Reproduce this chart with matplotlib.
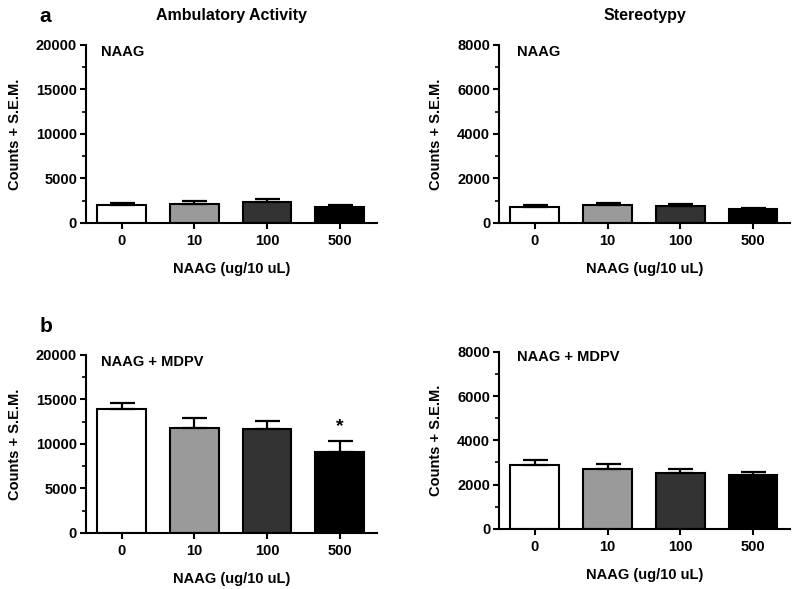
import matplotlib.pyplot as plt
from matplotlib.ticker import MultipleLocator

plt.rcParams["font.family"] = ["Liberation Sans", "DejaVu Sans"]
plt.rcParams["font.weight"] = "bold"

# doses on the x axis
doses = ["0", "10", "100", "500"]
bar_colors = ["white", "#9a9a9a", "#333333", "black"]

# ambulatory activity (counts), mean and SEM
amb_naag = [2060, 2140, 2390, 1800]
amb_naag_sem = [230, 300, 270, 180]
amb_mdpv = [13900, 11800, 11700, 9140]
amb_mdpv_sem = [700, 1150, 850, 1230]

# stereotypy (counts), mean and SEM
ster_naag = [720, 820, 765, 615]
ster_naag_sem = [75, 80, 75, 45]
ster_mdpv = [2900, 2720, 2540, 2420]
ster_mdpv_sem = [200, 200, 170, 130]

fig = plt.figure(figsize=(8, 5.89), dpi=100)

panels = [
    # rect, means, sems, ymax, major step, label, label x, label y
    ([0.1075, 0.6214, 0.3635, 0.3022], amb_naag, amb_naag_sem, 20000, 5000, "NAAG", 0.052, 0.96),
    ([0.624, 0.6214, 0.3635, 0.3022], ster_naag, ster_naag_sem, 8000, 2000, "NAAG", 0.06, 0.96),
    ([0.1075, 0.0951, 0.3635, 0.3022], amb_mdpv, amb_mdpv_sem, 20000, 5000, "NAAG + MDPV", 0.052, 0.96),
    ([0.624, 0.1019, 0.3635, 0.3010], ster_mdpv, ster_mdpv_sem, 8000, 2000, "NAAG + MDPV", 0.06, 0.97),
]

axes = []
for rect, means, sems, ymax, step, label, lx, ly in panels:
    ax = fig.add_axes(rect)
    x = range(len(doses))
    ax.bar(x, means, width=0.67, color=bar_colors, edgecolor="black", linewidth=1.5, zorder=2)
    ax.errorbar(x, means, yerr=[[0] * len(sems), sems], fmt="none", ecolor="black",
                elinewidth=1.6, capsize=9, capthick=1.6, zorder=3)
    ax.set_xlim(-0.49, 3.51)
    ax.set_ylim(0, ymax)
    ax.yaxis.set_major_locator(MultipleLocator(step))
    ax.yaxis.set_minor_locator(MultipleLocator(step / 2))
    ax.set_xticks(list(x))
    ax.set_xticklabels(doses)
    for s in ["top", "right"]:
        ax.spines[s].set_visible(False)
    for s in ["left", "bottom"]:
        ax.spines[s].set_linewidth(1.5)
    ax.tick_params(axis="both", which="major", direction="out", length=4.5, width=1.5,
                   labelsize=10.5)
    ax.tick_params(axis="y", which="minor", direction="out", length=3, width=1.2)
    ax.tick_params(axis="x", pad=3.5)
    ax.tick_params(axis="y", pad=2)
    ax.set_ylabel("Counts + S.E.M.", fontsize=10.5, fontweight="bold", labelpad=10)
    ax.set_xlabel("NAAG (ug/10 uL)", fontsize=10.5, fontweight="bold", labelpad=10)
    ax.text(lx, ly, label, transform=ax.transAxes, fontsize=10.5,
            fontweight="bold", va="center", ha="left")
    axes.append(ax)

# significance marker
axes[2].text(3, 11000, "*", ha="center", va="bottom", fontsize=14, fontweight="bold")

fig.text(0.5 * (0.1075 + 0.471), 0.974, "Ambulatory Activity", ha="center", va="center",
         fontsize=11.5, fontweight="bold")
fig.text(0.5 * (0.624 + 0.9875), 0.974, "Stereotypy", ha="center", va="center",
         fontsize=11.5, fontweight="bold")
fig.text(0.049, 0.972, "a", ha="left", va="center", fontsize=15, fontweight="bold")
fig.text(0.049, 0.445, "b", ha="left", va="center", fontsize=15, fontweight="bold")

fig.savefig("out.png", dpi=100)
